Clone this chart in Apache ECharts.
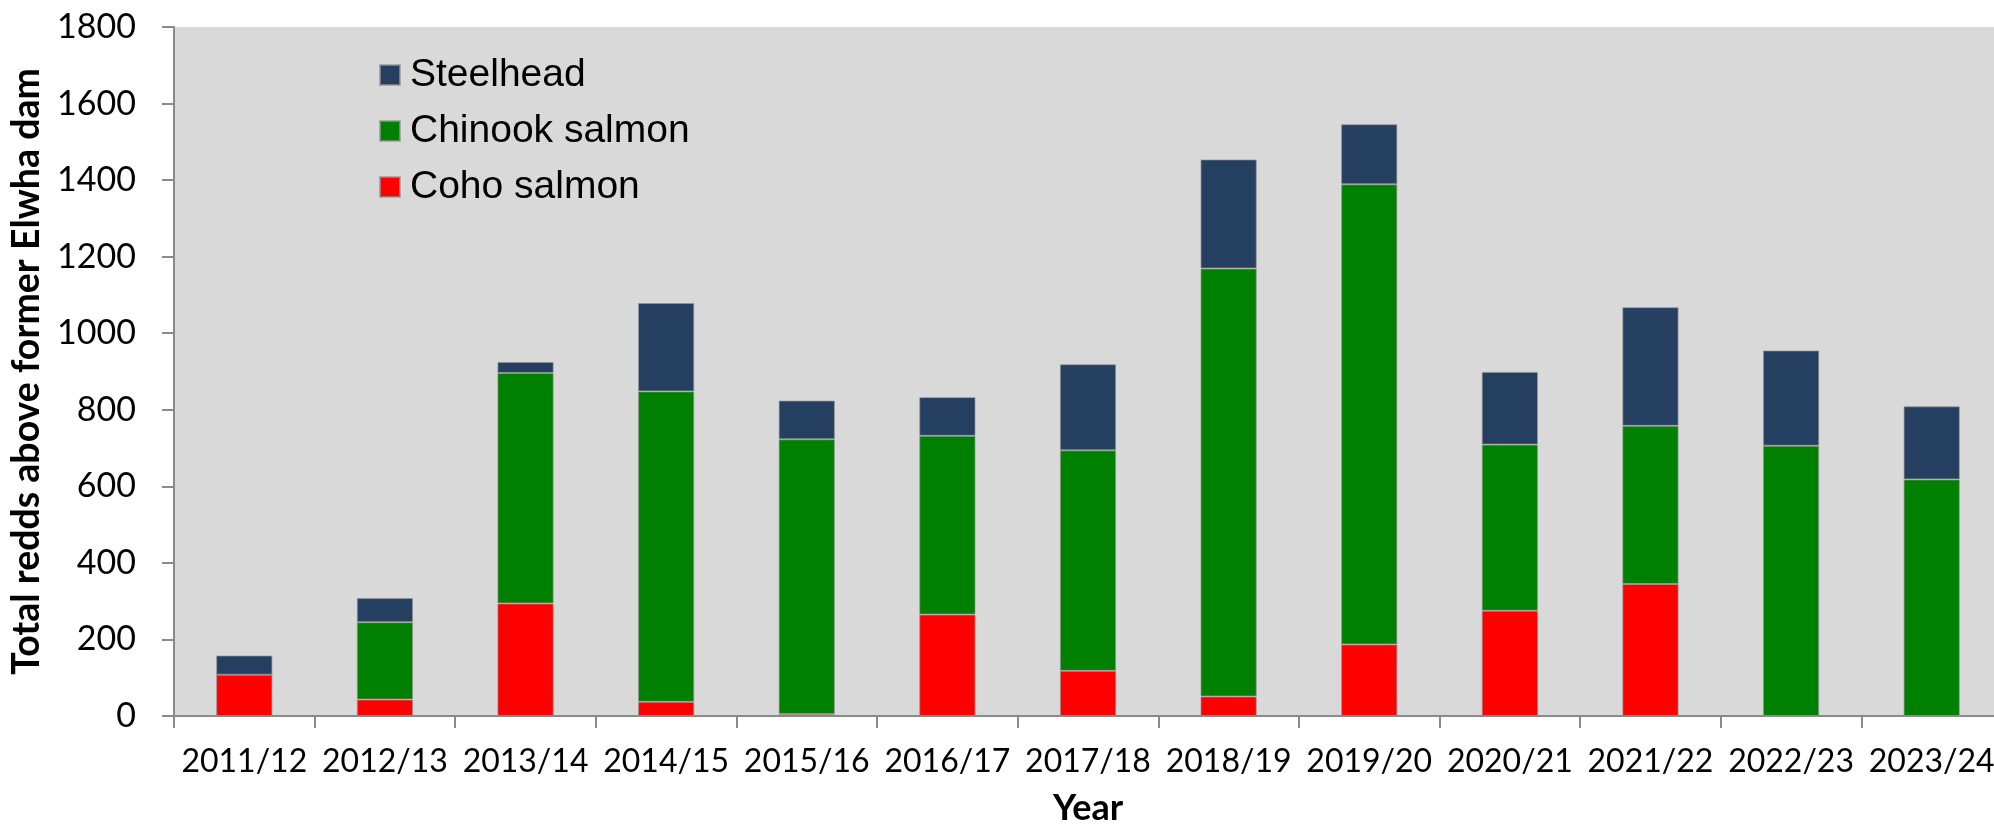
<!DOCTYPE html>
<html>
<head>
<meta charset="utf-8">
<script src="https://cdn.jsdelivr.net/npm/echarts@6/dist/echarts.min.js"></script>
<style>
  html, body { margin: 0; padding: 0; background: #fff; }
  #chart { width: 1994px; height: 824px; }
</style>
</head>
<body>
<div id="chart"></div>
<script>
// data
const years = ['2011/12', '2012/13', '2013/14', '2014/15', '2015/16', '2016/17', '2017/18',
  '2018/19', '2019/20', '2020/21', '2021/22', '2022/23', '2023/24'];
const coho = [108, 43, 294, 37, 5, 265, 118, 51, 187, 275, 345, 0, 0];
const chinook = [0, 202, 602, 811, 718, 467, 576, 1118, 1202, 434, 413, 706, 618];
const steelhead = [50, 63, 29, 231, 101, 101, 225, 285, 157, 190, 310, 249, 191];
const yTicks = { min: 0, max: 1800, step: 200 };

const chart = echarts.init(document.getElementById('chart'));

const labelFont = 'Lato, "Open Sans", sans-serif';
const axisGray = '#8a8a8a';

const barStyle = (color) => ({
  color: color,
  borderColor: 'rgba(150,150,150,0.7)',
  borderWidth: 1
});

const option = {
  backgroundColor: '#ffffff',
  animation: false,
  grid: {
    left: 174,
    top: 27,
    width: 1828,
    bottom: 108,
    outerBoundsMode: 'none',
    containLabel: false,
    show: true,
    backgroundColor: '#d9d9d9',
    borderWidth: 0
  },
  legend: {
    orient: 'vertical',
    left: 379,
    top: 55,
    padding: 0,
    icon: 'rect',
    itemWidth: 20,
    itemHeight: 20,
    itemGap: 16,
    data: ['Steelhead', 'Chinook salmon', 'Coho salmon'],
    textStyle: {
      fontFamily: '"Liberation Sans", Arial, sans-serif',
      fontSize: 39,
      lineHeight: 40,
      color: '#000',
      padding: [0, 0, 0, 5]
    }
  },
  xAxis: {
    type: 'category',
    data: years,
    name: 'Year',
    nameLocation: 'middle',
    nameGap: 74,
    nameTextStyle: {
      fontFamily: labelFont,
      fontWeight: 'bold',
      fontSize: 36,
      color: '#000'
    },
    axisLine: { show: true, lineStyle: { color: axisGray, width: 2 } },
    axisTick: { show: true, length: 12, lineStyle: { color: axisGray, width: 2 } },
    axisLabel: {
      interval: 0,
      margin: 30,
      fontFamily: labelFont,
      fontSize: 32,
      color: '#000'
    }
  },
  yAxis: {
    type: 'value',
    min: yTicks.min,
    max: yTicks.max,
    interval: yTicks.step,
    name: 'Total redds above former Elwha dam',
    nameLocation: 'middle',
    nameGap: 127,
    nameTextStyle: {
      fontFamily: labelFont,
      fontWeight: 'bold',
      fontSize: 37.5,
      color: '#000'
    },
    axisLine: { show: true, lineStyle: { color: axisGray, width: 2 } },
    axisTick: { show: true, length: 12, lineStyle: { color: axisGray, width: 2 } },
    splitLine: { show: false },
    axisLabel: {
      margin: 38,
      fontFamily: labelFont,
      fontSize: 34,
      color: '#000',
      formatter: (v) => String(v)
    }
  },
  series: [
    {
      name: 'Coho salmon',
      type: 'bar',
      stack: 'redds',
      barWidth: '40%',
      data: coho,
      itemStyle: barStyle('#ff0000')
    },
    {
      name: 'Chinook salmon',
      type: 'bar',
      stack: 'redds',
      barWidth: '40%',
      data: chinook,
      itemStyle: barStyle('#008000')
    },
    {
      name: 'Steelhead',
      type: 'bar',
      stack: 'redds',
      barWidth: '40%',
      data: steelhead,
      itemStyle: barStyle('#253f61')
    }
  ]
};

chart.setOption(option);
</script>
</body>
</html>
